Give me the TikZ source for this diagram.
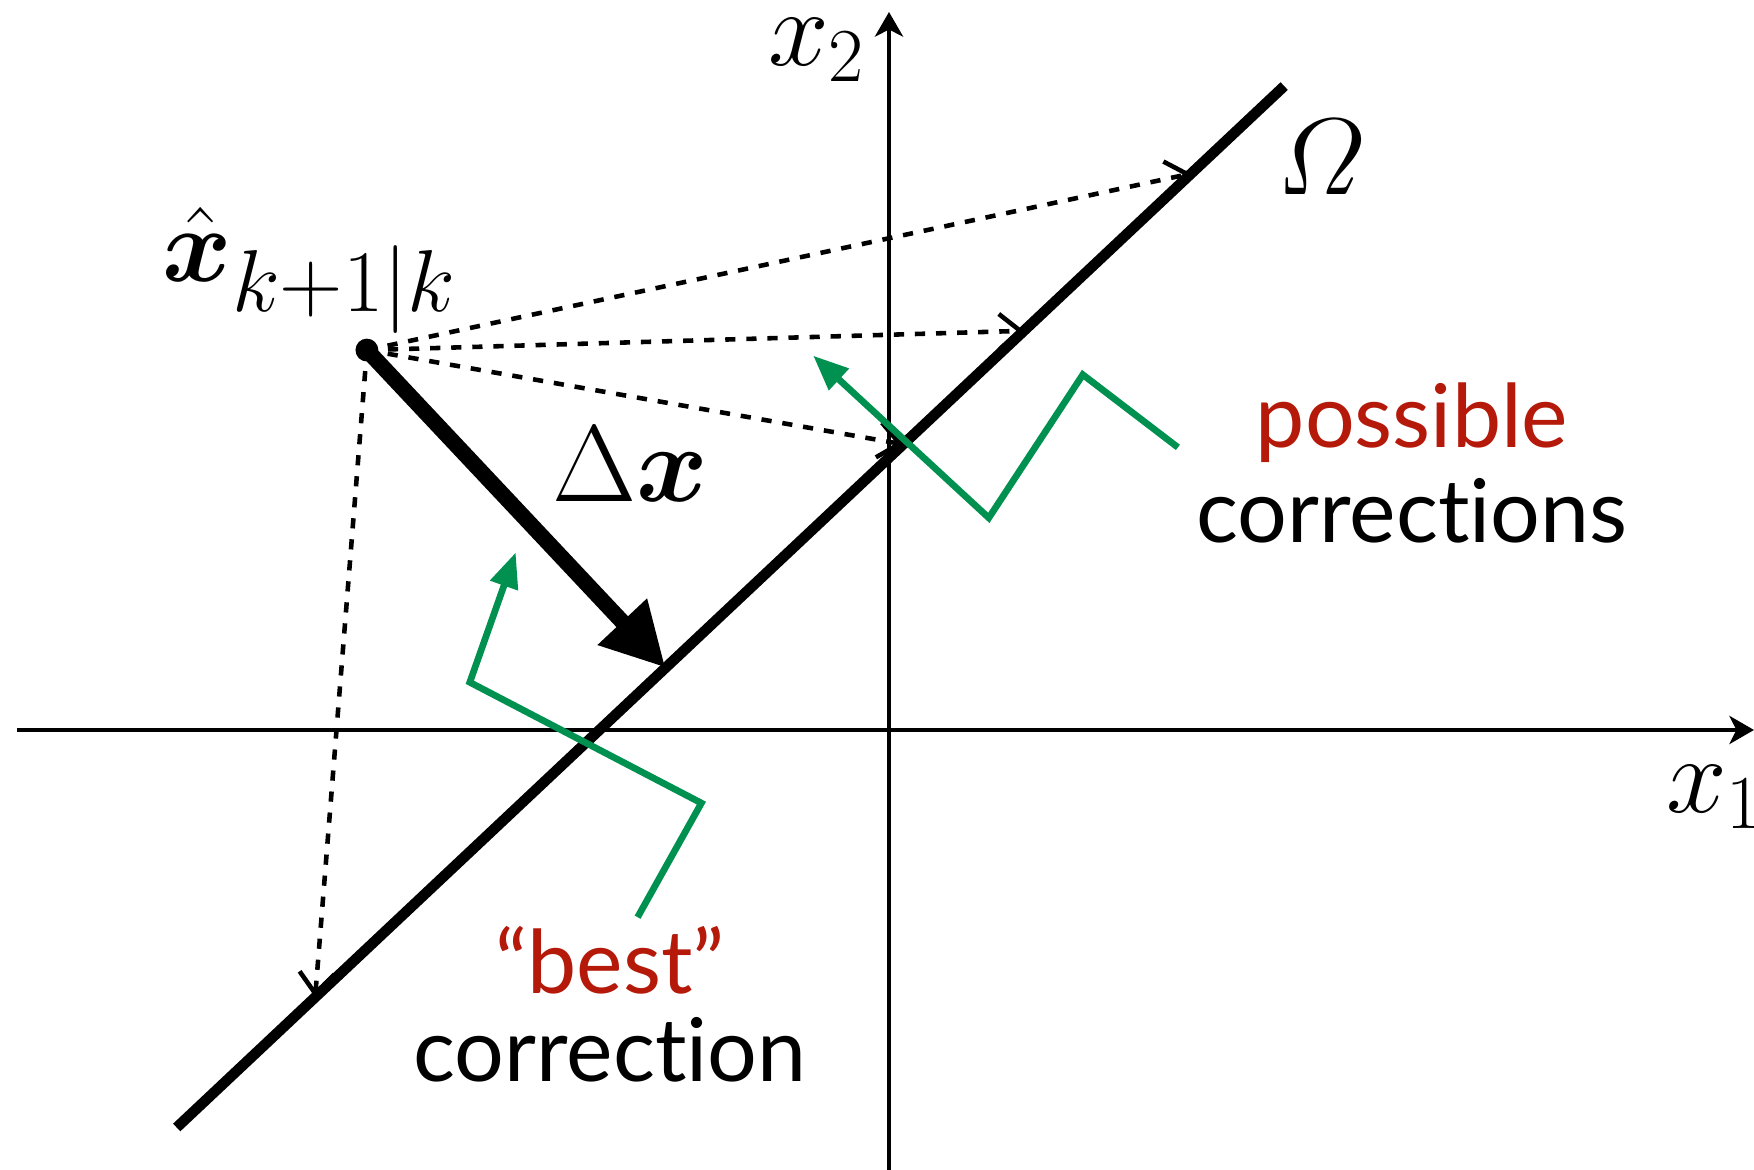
\RequirePackage{fix-cm}
\documentclass[tikz,border=0pt]{standalone}
\usepackage{amsmath, bm}
\usepackage[no-math]{fontspec}
\setmainfont{Lato}[Ligatures={NoCommon, NoRequired}]
\usetikzlibrary{arrows.meta, positioning, calc}

\definecolor{corrgreen}{RGB}{0,145,80}
\definecolor{corrred}{RGB}{180,25,10}

\begin{document}
\begin{tikzpicture}[
  axis/.style={line width=1.2pt, -{Stealth[length=7pt, width=8pt, inset=2pt]}},
  feasible/.style={line width=3pt},
  guess/.style={line width=1.3pt, dash pattern=on 2.9pt off 3.1pt, -{Straight Barb[length=6pt, width=10pt]}},
  dxarrow/.style={line width=4.5pt, -{Triangle[length=18pt, width=18pt]}},
  pointer/.style={corrgreen, line width=1.9pt, -{Triangle[length=10pt, width=8pt]}},
  dot/.style={circle, fill, inner sep=0pt, minimum size=6.5pt},
  mathlbl/.style={font=\fontsize{31}{36}\selectfont},
  lbl/.style={font=\fontsize{25}{27}\selectfont, align=center}
]
  \useasboundingbox (0,0) rectangle (17.54,11.70);

  % axes
  \coordinate (x1l) at (0.17,4.40);
  \coordinate (x1r) at (17.54,4.40);
  \coordinate (x2b) at (8.89,0);
  \coordinate (x2t) at (8.89,11.58);
  \draw[axis] (x1l) -- (x1r);
  \draw[axis] (x2b) -- (x2t);
  \node[mathlbl] (lx1) at (17.15,3.73) {$x_1$};
  \node[mathlbl] (lx2) at (8.17,11.20) {$x_2$};

  % constraint set
  \coordinate (om1) at (1.767,0.425);
  \coordinate (om2) at (12.842,10.839);
  \draw[feasible] (om1) -- (om2);
  \node[mathlbl] (lomega) at (13.22,10.13) {$\varOmega$};

  % prediction and candidate corrections
  \node[dot] (xhat) at (3.669,8.199) {};
  \node[font=\fontsize{30}{36}\selectfont, anchor=base west, inner sep=0pt] (lxhat) at (1.62,8.88)
    {$\hat{\bm{x}}_{\mbox{\fontsize{25}{30}\selectfont$k{+}1|k$}}$};
  \coordinate (c1) at ($(om1)!0.916!(om2)$);
  \coordinate (c2) at ($(om1)!0.765!(om2)$);
  \coordinate (c3) at ($(om1)!0.656!(om2)$);
  \coordinate (c4) at ($(om1)!0.125!(om2)$);
  \foreach \c in {c1, c2, c3, c4}
    \draw[guess] (xhat.center) -- (\c);

  % best correction
  \coordinate (foot) at ($(om1)!(xhat)!(om2)$);
  \draw[dxarrow] (xhat.center) -- (foot);
  \node[mathlbl] (ldx) at (6.30,7.06) {$\Delta\bm{x}$};

  % pointers
  \coordinate (p0) at (11.779,7.226);
  \coordinate (p1) at (10.828,7.953);
  \coordinate (p2) at (9.888,6.521);
  \coordinate (p3) at (8.132,8.143);
  \draw[pointer] (p0) -- (p1) -- (p2) -- (p3);
  \coordinate (b0) at (6.376,2.528);
  \coordinate (b1) at (7.014,3.669);
  \coordinate (b2) at (4.698,4.877);
  \coordinate (b3) at (5.157,6.175);
  \draw[pointer] (b0) -- (b1) -- (b2) -- (b3);

  \node[lbl] (lposs) at (14.12,7.07) {\textcolor{corrred}{possible}\\corrections};
  \node[lbl] (lbest) at (6.10,1.66) {\textcolor{corrred}{“best”}\\[-2pt]correction};
\end{tikzpicture}
\end{document}
